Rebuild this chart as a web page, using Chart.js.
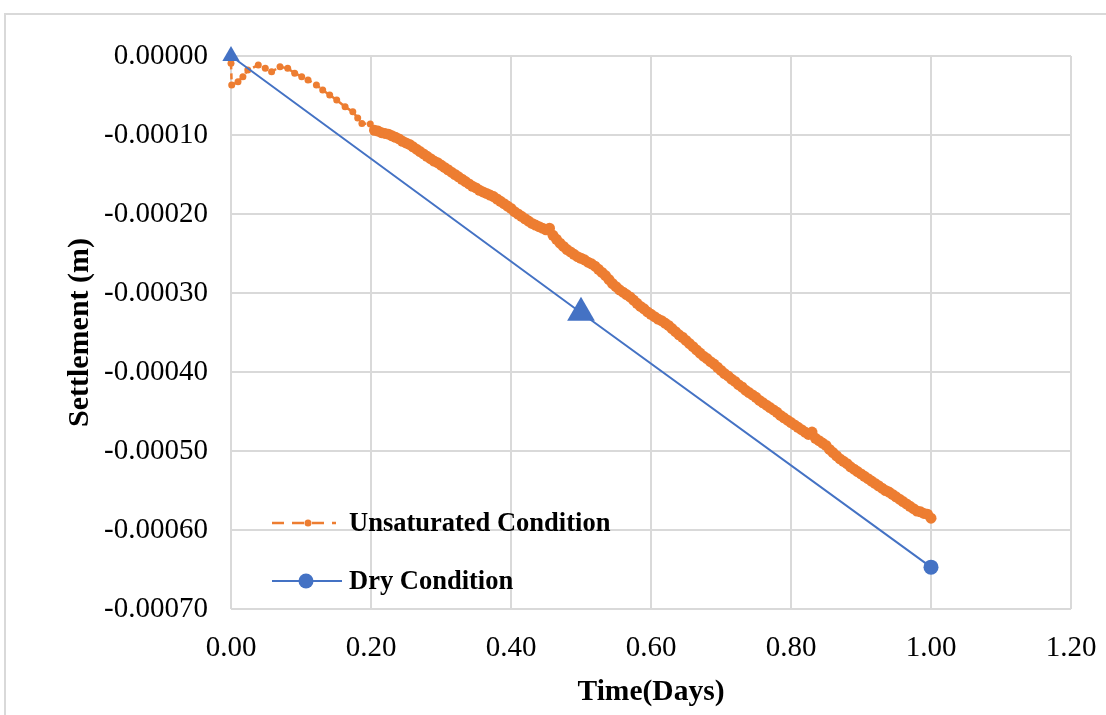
<!DOCTYPE html>
<html>
<head>
<meta charset="utf-8">
<script src="https://cdn.jsdelivr.net/npm/chart.js@4.4.0/dist/chart.umd.min.js"></script>
<style>
  html, body { margin: 0; padding: 0; background: #fff; overflow: hidden; }
  #wrap { position: relative; width: 1106px; height: 715px; }
  #frame { position: absolute; left: 4px; top: 13px; width: 1200px; height: 800px;
           border-top: 2px solid #d9d9d9; border-left: 2px solid #d9d9d9; }
  canvas { position: absolute; left: 0; top: 0; }
</style>
</head>
<body>
<div id="wrap">
  <div id="frame"></div>
  <canvas id="settlementChart" width="1106" height="715"></canvas>
</div>
<script>
// Unsaturated condition (orange dotted series), time in days
const unsatTime = [
  0.000, 0.001, 0.010, 0.017, 0.024, 0.039, 0.049, 0.058, 0.070, 0.081, 0.091,
  0.101, 0.110, 0.122, 0.131, 0.141, 0.151, 0.163, 0.174, 0.181, 0.187, 0.199,
  0.205, 0.210, 0.215, 0.220, 0.225, 0.230, 0.235, 0.240, 0.245, 0.250,
  0.255, 0.260, 0.265, 0.270, 0.275, 0.280, 0.285, 0.290, 0.295, 0.300,
  0.305, 0.310, 0.315, 0.320, 0.325, 0.330, 0.335, 0.340, 0.345, 0.350,
  0.355, 0.360, 0.365, 0.370, 0.375, 0.380, 0.385, 0.390, 0.395, 0.400,
  0.405, 0.410, 0.415, 0.420, 0.425, 0.430, 0.435, 0.440, 0.445, 0.450,
  0.455, 0.460, 0.465, 0.470, 0.475, 0.480, 0.485, 0.490, 0.495, 0.500,
  0.505, 0.510, 0.515, 0.520, 0.525, 0.530, 0.535, 0.540, 0.545, 0.550,
  0.555, 0.560, 0.565, 0.570, 0.575, 0.580, 0.585, 0.590, 0.595, 0.600,
  0.605, 0.610, 0.615, 0.620, 0.625, 0.630, 0.635, 0.640, 0.645, 0.650,
  0.655, 0.660, 0.665, 0.670, 0.675, 0.680, 0.685, 0.690, 0.695, 0.700,
  0.705, 0.710, 0.715, 0.720, 0.725, 0.730, 0.735, 0.740, 0.745, 0.750,
  0.755, 0.760, 0.765, 0.770, 0.775, 0.780, 0.785, 0.790, 0.795, 0.800,
  0.805, 0.810, 0.815, 0.820, 0.825, 0.830, 0.835, 0.840, 0.845, 0.850,
  0.855, 0.860, 0.865, 0.870, 0.875, 0.880, 0.885, 0.890, 0.895, 0.900,
  0.905, 0.910, 0.915, 0.920, 0.925, 0.930, 0.935, 0.940, 0.945, 0.950,
  0.955, 0.960, 0.965, 0.970, 0.975, 0.980, 0.985, 0.990, 0.995, 1.000,
];
// settlement in m
const unsatSettlement = [
  -0.0000093, -0.0000368, -0.0000326, -0.0000262, -0.0000178, -0.0000114,
  -0.0000156, -0.0000199, -0.0000136, -0.0000156, -0.0000219, -0.0000262,
  -0.0000304, -0.0000368, -0.0000431, -0.0000495, -0.0000558, -0.0000643,
  -0.0000706, -0.0000786, -0.0000853, -0.0000862,
  -0.000094, -0.000095, -0.000097, -0.000098, -0.000099, -0.000101, -0.000103, -0.000105, -0.000108, -0.000110,
  -0.000112, -0.000115, -0.000118, -0.000121, -0.000124, -0.000127, -0.000130, -0.000133, -0.000135, -0.000138,
  -0.000141, -0.000144, -0.000147, -0.000150, -0.000153, -0.000156, -0.000159, -0.000162, -0.000165, -0.000167,
  -0.000170, -0.000172, -0.000174, -0.000176, -0.000178, -0.000181, -0.000184, -0.000187, -0.000190, -0.000193,
  -0.000197, -0.000200, -0.000203, -0.000206, -0.000209, -0.000212, -0.000214, -0.000216, -0.000218, -0.000220,
  -0.000218, -0.000227, -0.000232, -0.000237, -0.000241, -0.000245, -0.000248, -0.000251, -0.000254, -0.000256,
  -0.000258, -0.000261, -0.000263, -0.000266, -0.000270, -0.000274, -0.000278, -0.000283, -0.000288, -0.000292,
  -0.000296, -0.000299, -0.000302, -0.000305, -0.000309, -0.000313, -0.000317, -0.000320, -0.000324, -0.000327,
  -0.000330, -0.000333, -0.000335, -0.000338, -0.000341, -0.000345, -0.000349, -0.000353, -0.000356, -0.000360,
  -0.000364, -0.000368, -0.000372, -0.000376, -0.000380, -0.000383, -0.000387, -0.000390, -0.000394, -0.000398,
  -0.000402, -0.000405, -0.000409, -0.000412, -0.000416, -0.000419, -0.000423, -0.000426, -0.000429, -0.000432,
  -0.000436, -0.000439, -0.000442, -0.000445, -0.000448, -0.000451, -0.000455, -0.000458, -0.000461, -0.000464,
  -0.000467, -0.000470, -0.000473, -0.000476, -0.000479, -0.000476, -0.000484, -0.000487, -0.000490, -0.000493,
  -0.000498, -0.000502, -0.000506, -0.000510, -0.000513, -0.000516, -0.000520, -0.000523, -0.000526, -0.000529,
  -0.000532, -0.000535, -0.000538, -0.000541, -0.000544, -0.000547, -0.000550, -0.000552, -0.000555, -0.000558,
  -0.000561, -0.000564, -0.000567, -0.000570, -0.000573, -0.000576, -0.000577, -0.000579, -0.000580, -0.000585,
];

// Dry condition (blue series)
const dryTime = [0, 0.5, 1.0];
const drySettlement = [0, -0.000325, -0.000647];

// axis ranges
const xTicks = { min: 0, max: 1.2, step: 0.2 };
const yTicks = { min: -0.0007, max: 0, step: 0.0001 };

const ORANGE = '#ED7D31';
const BLUE = '#4472C4';
const GRID = '#d9d9d9';
const SERIF = "'Liberation Serif', 'Times New Roman', serif";

// legend drawn inside the plot area, bottom left
const insideLegend = {
  id: 'insideLegend',
  afterDraw(chart) {
    const { ctx } = chart;
    ctx.save();
    ctx.font = `bold 26.5px ${SERIF}`;
    ctx.textBaseline = 'middle';

    // Unsaturated
    ctx.strokeStyle = ORANGE;
    ctx.lineWidth = 2.5;
    ctx.setLineDash([12, 8]);
    ctx.beginPath();
    ctx.moveTo(272, 523);
    ctx.lineTo(336, 523);
    ctx.stroke();
    ctx.setLineDash([]);
    ctx.fillStyle = ORANGE;
    ctx.beginPath();
    ctx.arc(308, 523, 3.5, 0, Math.PI * 2);
    ctx.fill();
    ctx.fillStyle = '#000';
    ctx.fillText('Unsaturated Condition', 349, 524);

    // Dry
    ctx.strokeStyle = BLUE;
    ctx.lineWidth = 2;
    ctx.beginPath();
    ctx.moveTo(272, 581);
    ctx.lineTo(342, 581);
    ctx.stroke();
    ctx.fillStyle = BLUE;
    ctx.beginPath();
    ctx.arc(306, 581, 7.5, 0, Math.PI * 2);
    ctx.fill();
    ctx.fillStyle = '#000';
    ctx.fillText('Dry Condition', 349, 582);
    ctx.restore();
  },
};

const ctx = document.getElementById('settlementChart').getContext('2d');
const settlementChart = new Chart(ctx, {
  type: 'scatter',
  data: {
    datasets: [
      {
        label: 'Dry Condition',
        data: dryTime.map((t, i) => ({ x: t, y: drySettlement[i] })),
        showLine: true,
        clip: false,
        borderColor: BLUE,
        backgroundColor: BLUE,
        borderWidth: 2,
        pointStyle: ['triangle', 'triangle', 'circle'],
        pointRadius: [10, 16, 7.5],
        pointBorderWidth: 0,
        order: 1,
      },
      {
        label: 'Unsaturated Condition',
        data: unsatTime.map((t, i) => ({ x: t, y: unsatSettlement[i] })),
        showLine: true,
        clip: false,
        borderColor: ORANGE,
        backgroundColor: ORANGE,
        borderWidth: 2.5,
        borderDash: [6, 4],
        pointRadius: (c) => (unsatTime[c.dataIndex] > 0.2 ? 5.5 : 3.5),
        pointBorderWidth: 0,
        order: 2,
      },
    ],
  },
  options: {
    responsive: false,
    animation: false,
    layout: { padding: { left: 10, top: 56, right: 35, bottom: 5 } },
    plugins: {
      legend: { display: false },
      tooltip: { enabled: false },
    },
    scales: {
      x: {
        type: 'linear',
        min: xTicks.min,
        max: xTicks.max,
        border: { display: false },
        grid: { color: GRID, lineWidth: 2, drawTicks: false },
        ticks: {
          stepSize: xTicks.step,
          padding: 22,
          color: '#000',
          font: { family: SERIF, size: 29 },
          callback: (v) => Number(v).toFixed(2),
        },
        title: {
          display: true,
          text: 'Time(Days)',
          color: '#000',
          font: { family: SERIF, size: 29.5, weight: 'bold' },
          padding: { top: 0, bottom: 0 },
        },
        afterFit: (scale) => {
          scale.height = 715 - 5 - 609;
          scale.paddingLeft = 0;
          scale.paddingRight = 0;
        },
      },
      y: {
        type: 'linear',
        min: yTicks.min,
        max: yTicks.max,
        border: { display: false },
        grid: { color: GRID, lineWidth: 2, drawTicks: false },
        ticks: {
          stepSize: yTicks.step,
          padding: 23,
          color: '#000',
          font: { family: SERIF, size: 29 },
          callback: (v) => Number(v).toFixed(5),
        },
        title: {
          display: true,
          text: 'Settlement (m)',
          color: '#000',
          font: { family: SERIF, size: 30, weight: 'bold' },
          padding: { top: 52, bottom: 0 },
        },
        afterFit: (scale) => { scale.width = 231 - 10; },
      },
    },
  },
  plugins: [insideLegend],
});
</script>
</body>
</html>
